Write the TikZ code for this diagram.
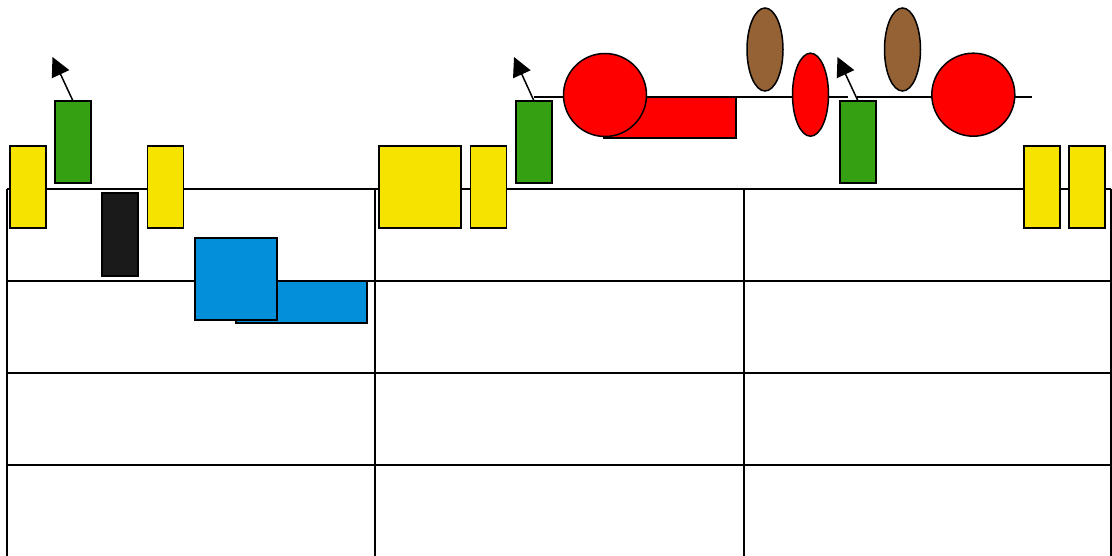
\documentclass[tikz,border=0pt]{standalone}
\usetikzlibrary{arrows.meta,shapes.geometric}
\definecolor{cyel}{RGB}{246,228,0}
\definecolor{cgrn}{RGB}{53,160,18}
\definecolor{cblu}{RGB}{3,143,218}
\definecolor{cbrn}{RGB}{148,98,52}
\definecolor{cred}{RGB}{255,0,0}
\definecolor{cblk}{RGB}{26,26,26}
\tikzset{
  shp/.style={draw=black, line width=1.5pt, inner sep=0pt, outer sep=0pt},
  ybox/.style={shp, fill=cyel, rectangle, minimum width=36pt, minimum height=82pt},
  gbox/.style={shp, fill=cgrn, rectangle, minimum width=36pt, minimum height=82pt},
  kbox/.style={shp, fill=cblk, rectangle, minimum width=36pt, minimum height=83pt},
  bbox/.style={shp, fill=cblu, rectangle},
  rbox/.style={shp, fill=cred, rectangle},
  rcirc/.style={shp, fill=cred, circle, minimum size=83pt},
  brell/.style={shp, fill=cbrn, ellipse, minimum width=36pt, minimum height=83pt},
  rell/.style={shp, fill=cred, ellipse, minimum width=36pt, minimum height=83pt},
  gridline/.style={draw=black, line width=1.5pt},
  wire/.style={draw=black, line width=1.5pt},
  pointer/.style={draw=black, line width=1.5pt, -{Triangle[length=19pt,width=19pt]}}
}
\begin{document}
\begin{tikzpicture}[x=1pt,y=-1pt]
\useasboundingbox (0,0) rectangle (1112,556);
% grid
\foreach \yy in {189,281,373,465} \draw[gridline] (7,\yy) -- (1111,\yy);
\foreach \xx in {7,375,744,1111} \draw[gridline] (\xx,189) -- (\xx,556);
% wire coordinates
\coordinate (w1a) at (534,97);
\coordinate (w1b) at (848,97);
\coordinate (w2a) at (857,97);
\coordinate (w2b) at (1032,97);
\draw[wire] (w1a) -- (w1b);
\draw[wire] (w2a) -- (w2b);
% left group
\node[ybox] (y1) at (28,187) {};
\node[gbox] (g1) at (73,142) {};
\node[kbox] (k1) at (120,234.5) {};
\node[ybox] (y2) at (165.5,187) {};
\node[bbox, minimum width=131pt, minimum height=42pt] (b2) at (301.5,302) {};
\node[bbox, minimum width=82pt, minimum height=82pt] (b1) at (236,279) {};
% middle group
\node[ybox, minimum width=82pt] (y3) at (420,187) {};
\node[ybox] (y4) at (488.5,187) {};
\node[gbox] (g2) at (534,142) {};
\node[rbox, minimum width=132pt, minimum height=41pt] (r1) at (670,117.5) {};
\node[rcirc] (c1) at (605,95) {};
% right group
\node[brell] (e1) at (765,49.5) {};
\node[rell] (e2) at (810.5,94.7) {};
\node[gbox] (g3) at (858,142) {};
\node[brell] (e3) at (902.5,49.5) {};
\node[rcirc] (c2) at (973.3,94.7) {};
\node[ybox] (y5) at (1042,187) {};
\node[ybox] (y6) at (1087,187) {};
% pointers
\coordinate (t1) at (52.5,57);
\coordinate (t2) at (514,57);
\coordinate (t3) at (837.5,57);
\draw[pointer] (g1.north) -- (t1);
\draw[pointer] (g2.north) -- (t2);
\draw[pointer] (g3.north) -- (t3);
\end{tikzpicture}
\end{document}
